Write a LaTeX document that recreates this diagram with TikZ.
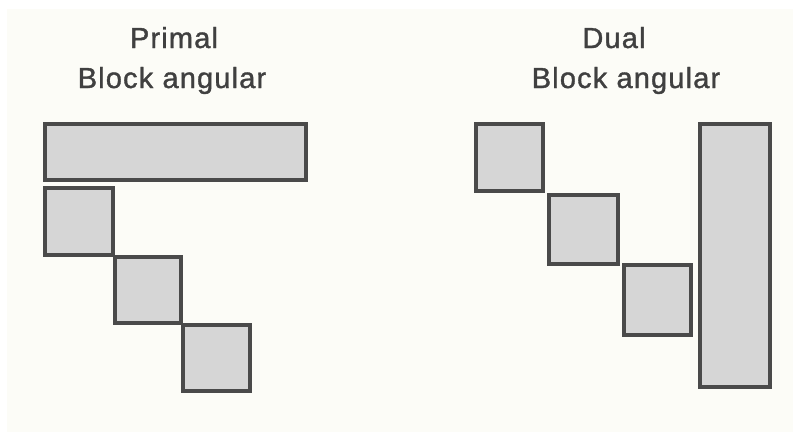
\documentclass[tikz,border=0pt]{standalone}
\usepackage{fontspec}
\newfontfamily\lblfont[LetterSpace=4,FakeBold=1.2]{Liberation Sans}
\usetikzlibrary{patterns}
\definecolor{paper}{HTML}{FCFCF7}
\definecolor{edge}{HTML}{4A4A4A}
\definecolor{shade}{HTML}{D6D6D6}
\definecolor{ink}{HTML}{404040}
\begin{document}
\begin{tikzpicture}[x=1pt,y=-1pt,
  blockbox/.style={draw=edge,line width=4pt,fill=shade},
  title/.style={text=ink,font=\lblfont\fontsize{29}{36}\selectfont,align=center,inner sep=0pt}]
\useasboundingbox (0,0) rectangle (793,432);
\fill[white] (0,0) rectangle (793,432);
\fill[paper] (7,9) rectangle (793,432);
% titles
\node[title,anchor=base] (pt1) at (174,48) {Primal};
\node[title,anchor=base] (pt2) at (172,88) {Block angular};
\node[title,anchor=base] (dt1) at (614,48) {Dual};
\node[title,anchor=base] (dt2) at (626,88) {Block angular};
% primal
\draw[blockbox] (45,124) rectangle (306,180);
\draw[blockbox] (45,188) rectangle (113,255);
\draw[blockbox] (115,257) rectangle (181,323);
\draw[blockbox] (183,325) rectangle (250,391);
% dual
\draw[blockbox] (476,124) rectangle (543,191);
\draw[blockbox] (549,195) rectangle (618,264);
\draw[blockbox] (624,265) rectangle (691,335);
\draw[blockbox] (700,124) rectangle (770,387);
\end{tikzpicture}
\end{document}
